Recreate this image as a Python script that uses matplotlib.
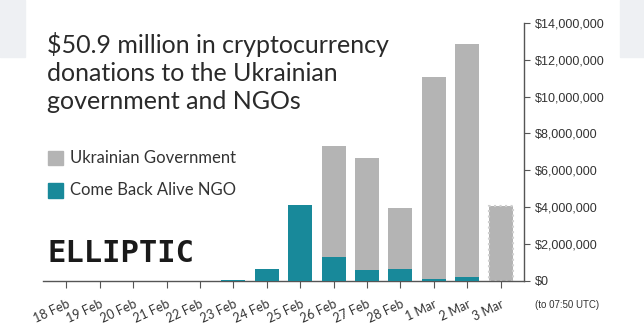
import matplotlib.pyplot as plt
from matplotlib.patches import Rectangle
from matplotlib.ticker import FuncFormatter

# data (USD per day)
days = ['18 Feb', '19 Feb', '20 Feb', '21 Feb', '22 Feb', '23 Feb', '24 Feb',
        '25 Feb', '26 Feb', '27 Feb', '28 Feb', '1 Mar', '2 Mar', '3 Mar']
ngo = [0, 0, 0, 0, 0, 50000, 650000, 4120000, 1300000, 600000, 650000,
       120000, 200000, 0]
govt = [0, 0, 0, 0, 0, 0, 0, 0, 6000000, 6070000, 3310000, 10950000,
        12650000, 4080000]

teal = '#18899a'
grey = '#b4b4b4'
ink = '#333333'

fig = plt.figure(figsize=(6.44, 3.26), dpi=100)
fig.patch.set_facecolor('white')

# faint screenshot blocks in the corners
fig.patches.append(Rectangle((0, 1 - 57/326), 25/644, 57/326, transform=fig.transFigure,
                             color='#eef0f3', zorder=0))
fig.patches.append(Rectangle((620/644, 1 - 57/326), 24/644, 57/326, transform=fig.transFigure,
                             color='#eef0f3', zorder=0))

ax = fig.add_axes([43/644, 1 - 281/326, (524 - 43)/644, (281 - 22.7)/326])
ax.set_facecolor('none')

x = list(range(len(days)))
w = 0.72
# last day is partial -> dotted outline
ax.bar(x[:-1], govt[:-1], w, bottom=ngo[:-1], color=grey, zorder=2)
ax.bar(x[-1], govt[-1], w, bottom=ngo[-1], color=grey, edgecolor='#cfcfcf',
       linestyle=':', linewidth=1.5, zorder=2)
ax.bar(x, ngo, w, color=teal, zorder=3)

ax.set_xlim(-0.7, 13.7)
ax.set_ylim(0, 14000000)
ax.set_yticks(range(0, 14000001, 2000000))
ax.yaxis.set_major_formatter(FuncFormatter(lambda v, p: '${:,.0f}'.format(v)))
ax.yaxis.tick_right()
ax.tick_params(axis='y', direction='out', length=4, color='#555555', labelsize=9,
               labelcolor=ink, pad=4)
for lab in ax.get_yticklabels():
    lab.set_family('Liberation Sans')

ax.set_xticks(x)
ax.set_xticklabels(days, rotation=25, ha='right', rotation_mode='anchor',
                   fontsize=9, color=ink, family='Lato')
ax.tick_params(axis='x', direction='out', length=5, color='#555555', pad=7)

for s in ['top', 'left']:
    ax.spines[s].set_visible(False)
ax.spines['right'].set_color('#555555')
ax.spines['bottom'].set_color('#555555')
ax.spines['right'].set_linewidth(1)
ax.spines['bottom'].set_linewidth(1)

fig.text(535/644, 1 - 305/326, '(to 07:50 UTC)', fontsize=7, color=ink,
         family='Liberation Sans', va='center')

# title
fig.text(47/644, 1 - 32/326,
         '$50.9 million in cryptocurrency\ndonations to the Ukrainian\ngovernment and NGOs',
         fontsize=18, color='#2a2a2a', family='Lato', va='top', linespacing=1.27)

# legend
for yy, col, lab in [(158, grey, 'Ukrainian Government'), (190, teal, 'Come Back Alive NGO')]:
    fig.patches.append(Rectangle((48/644, 1 - (yy + 7.5)/326), 15/644, 15/326,
                                 transform=fig.transFigure, color=col))
    fig.text(70/644, 1 - yy/326, lab, fontsize=12, color=ink, family='Lato', va='center')

# logo
fig.text(47/644, 1 - 254/326, 'ELLIPTIC', fontsize=22, weight='bold', color='#1a1a1a',
         family='DejaVu Sans Mono', va='center')

fig.savefig('out.png', dpi=100)
